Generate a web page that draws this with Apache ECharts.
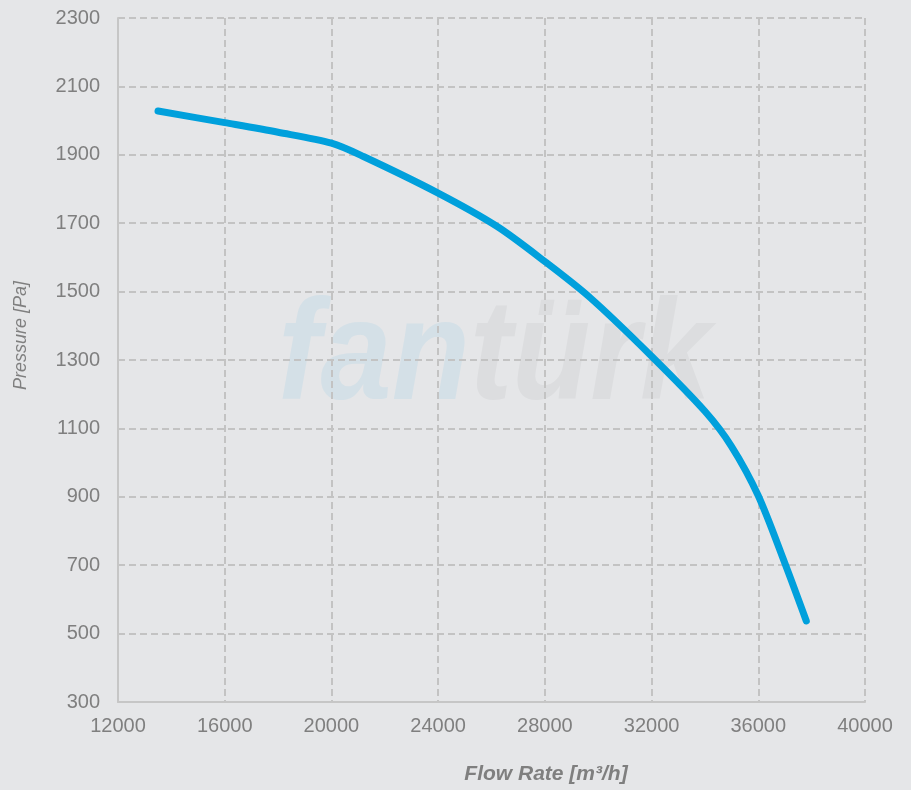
<!DOCTYPE html>
<html>
<head>
<meta charset="utf-8">
<script src="https://cdn.jsdelivr.net/npm/echarts@6/dist/echarts.min.js"></script>
<style>
html,body{margin:0;padding:0;background:#e5e6e8;}
#c{width:911px;height:790px;}
</style>
</head>
<body>
<div id="c"></div>
<script>
const flowRate = [13500, 16000, 18000, 20000, 21200, 24000, 26200, 28000, 29700, 32000, 34000, 35000, 36000, 37000, 37800];
const pressure = [2028, 1994, 1966, 1934, 1895, 1788, 1691, 1588, 1482, 1311, 1150, 1047, 903, 705, 537];
const xTicks = {min: 12000, max: 40000, interval: 4000};
const yTicks = {min: 300, max: 2300, interval: 200};

const chart = echarts.init(document.getElementById('c'));
const gridColor = '#c3c3c3';
chart.setOption({
  backgroundColor: '#e5e6e8',
  animation: false,
  grid: {left: 118, right: 46, top: 18, bottom: 87},
  graphic: [{
    type: 'text',
    x: 278,
    y: 289,
    scaleX: 0.9,
    z: -1,
    silent: true,
    style: {
      text: '{a|fan}{b|türk}',
      verticalAlign: 'top',
      rich: {
        a: {fill: '#d4e0e7', fontSize: 142, fontWeight: 'bold', fontStyle: 'italic', fontFamily: 'Liberation Sans'},
        b: {fill: '#dcdddf', fontSize: 142, fontWeight: 'bold', fontStyle: 'italic', fontFamily: 'Liberation Sans'}
      }
    }
  }],
  xAxis: {
    type: 'value',
    min: xTicks.min, max: xTicks.max, interval: xTicks.interval,
    name: 'Flow Rate [m³/h]',
    nameLocation: 'middle',
    nameGap: 62,
    nameTextStyle: {color: '#7f7f7f', fontSize: 21, fontWeight: 'bold', fontStyle: 'italic', fontFamily: 'Liberation Sans', padding: [0, 0, 0, 109]},
    axisLine: {show: true, lineStyle: {color: '#c6c6c6', width: 2}},
    axisTick: {show: false},
    axisLabel: {color: '#7f7f7f', fontSize: 20, margin: 14, fontFamily: 'Liberation Sans', formatter: v => String(v)},
    splitLine: {show: true, lineStyle: {color: gridColor, width: 2, type: [7, 4]}}
  },
  yAxis: {
    type: 'value',
    min: yTicks.min, max: yTicks.max, interval: yTicks.interval,
    name: 'Pressure [Pa]',
    nameLocation: 'middle',
    nameGap: 88,
    nameTextStyle: {color: '#7f7f7f', fontSize: 18, fontStyle: 'italic', fontFamily: 'Liberation Sans', padding: [0, 0, 0, 49]},
    axisLine: {show: true, lineStyle: {color: '#c6c6c6', width: 2}},
    axisTick: {show: false},
    axisLabel: {color: '#7f7f7f', fontSize: 20, margin: 18, fontFamily: 'Liberation Sans', formatter: v => String(v)},
    splitLine: {show: true, lineStyle: {color: gridColor, width: 2, type: [7, 4]}}
  },
  series: [{
    type: 'line',
    data: flowRate.map((x, i) => [x, pressure[i]]),
    smooth: 0.3,
    showSymbol: false,
    lineStyle: {color: '#00a0dc', width: 7, cap: 'round'}
  }]
});
</script>
</body>
</html>
